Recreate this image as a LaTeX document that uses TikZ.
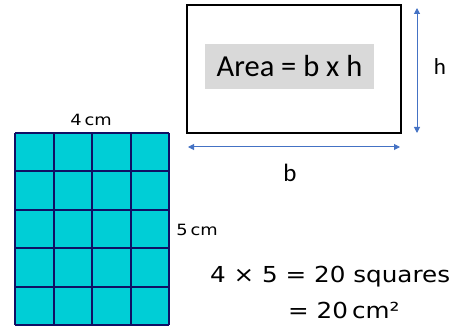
\documentclass[tikz,border=0pt]{standalone}
\usepackage{fontspec}
\setmainfont{Carlito}
\newfontfamily\eqfont{DejaVu Sans}
\usetikzlibrary{arrows.meta}
\definecolor{arrblue}{RGB}{68,114,196}
\definecolor{cellcyan}{RGB}{0,206,214}
\definecolor{gridnavy}{RGB}{16,16,100}
\definecolor{hlgrey}{RGB}{217,217,217}
\tikzset{
  dim/.style={draw=arrblue, line width=1pt, {Triangle[width=6pt,length=6pt]}-{Triangle[width=6pt,length=6pt]}},
  eqtext/.style={font=\eqfont\fontsize{22}{26}\selectfont, inner sep=0pt, anchor=base west},
  cmtext/.style={font=\eqfont\fontsize{15.5}{18}\selectfont, inner sep=0pt},
}
\begin{document}
\begin{tikzpicture}[x=1pt,y=-1pt]
\useasboundingbox (0,0) rectangle (450,326);
% rectangle with formula
\node[draw=black, line width=1.3pt, minimum width=214pt, minimum height=128pt, inner sep=0pt] (box) at (294,69) {};
\node[fill=hlgrey, minimum width=169pt, minimum height=45pt, inner sep=0pt, font=\fontsize{30.5}{34}\selectfont] (area) at (289.5,66.5) {Area = b x h};
% dimension arrows
\coordinate (ht) at (417,8);
\coordinate (hb) at (417,133);
\draw[dim] (ht) -- (hb);
\node[font=\fontsize{23}{26}\selectfont, inner sep=0pt] (hlab) at (440,67) {h};
\coordinate (bl) at (188,147);
\coordinate (br) at (400,147);
\draw[dim] (bl) -- (br);
\node[font=\fontsize{25}{28}\selectfont, inner sep=0pt] (blab) at (290,173) {b};
% grid
\fill[cellcyan] (15,133) rectangle (169,325);
\foreach \i in {0,...,4} {
  \draw[gridnavy, line width=2pt] ({15+38.5*\i},133) -- ({15+38.5*\i},325);
}
\foreach \j in {0,...,5} {
  \draw[gridnavy, line width=2pt] (15,{133+38.4*\j}) -- (169,{133+38.4*\j});
}
\node[cmtext] (w) at (91,120) {\scalebox{1.15}[1]{4\,cm}};
\node[cmtext] (hh) at (197,230) {\scalebox{1.15}[1]{5\,cm}};
% equations
\node[eqtext] (eq1) at (210,282) {\scalebox{1.12}[1]{4 × 5 = 20 squares}};
\node[eqtext] (eq2) at (288,318) {\scalebox{1.12}[1]{= 20\,cm²}};
\end{tikzpicture}
\end{document}
